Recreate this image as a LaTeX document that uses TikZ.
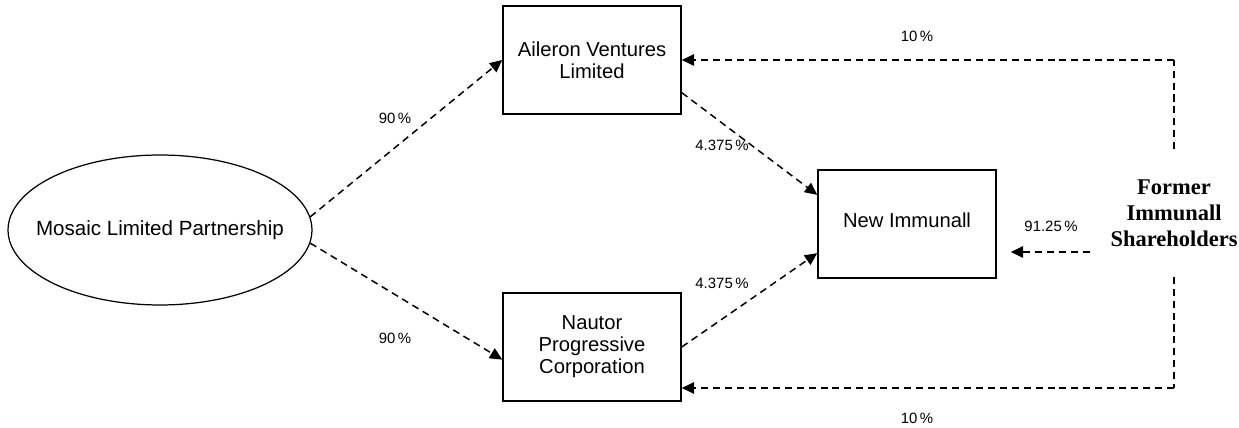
\documentclass[tikz,border=0pt]{standalone}
\usepackage{fontspec}
\setmainfont{Liberation Sans}
\newfontfamily\formerfont{Liberation Serif}
\usepackage{tikz}
\usetikzlibrary{calc, positioning, arrows.meta, shapes.geometric}
\tikzstyle{entity}=[draw, shape=rectangle, line width=0.9pt, minimum width=3.56cm, minimum height=2.16cm, align=center, inner sep=2pt, font=\fontsize{11.5}{12.6}\selectfont]
\tikzstyle{holder}=[draw, shape=ellipse, line width=0.7pt, minimum width=6.08cm, minimum height=3cm, inner sep=0pt, font=\fontsize{11.7}{12.6}\selectfont]
\tikzstyle{link}=[line width=0.85pt, dash pattern=on 4pt off 2.8pt, -{Triangle[length=7pt, width=6.5pt]}]
\tikzstyle{plain link}=[line width=0.85pt, dash pattern=on 4pt off 2.8pt]
\tikzstyle{pct}=[inner sep=0pt, font=\fontsize{8.5}{10}\selectfont]

\begin{document}
\begin{tikzpicture}[x=0.02cm, y=-0.02cm]
\useasboundingbox (0,0) rectangle (1239,428);
% the owners and the companies
\node[holder] (mosaic) at (160,230) {\makebox[0pt]{Mosaic Limited Partnership}};
\node[entity] (aileron) at (592,60) {Aileron Ventures\\Limited};
\node[entity] (nautor) at (592,347) {Nautor\\Progressive\\Corporation};
\node[entity] (newimm) at (907,224) {\raisebox{4pt}{New Immunall}};
\node[align=center, inner xsep=0pt, inner ysep=17pt, font=\formerfont\bfseries\fontsize{12.8}{14.8}\selectfont] (former) at (1174,213) {Former\\Immunall\\Shareholders};
% the corners and the free end
\coordinate (topturn) at (former.north |- aileron.east);
\coordinate (botturn) at (1174,388);
\coordinate (fmid) at (1090,252);
%
% the holdings of Mosaic
\draw[link] (mosaic.5) -- (aileron.west);
\draw[link] (mosaic.-5) -- (nautor.188);
% the holdings in New Immunall
\draw[link] (aileron.-20) -- (newimm.162);
\draw[link] (nautor.east) -- (newimm.198);
\draw[link, shorten >= 0.28cm] (fmid) -- (fmid -| newimm.east);
% the holdings of the former shareholders
\draw[plain link] (former.north) -- (topturn);
\draw[link] (topturn) -- (aileron.east);
\draw[plain link] (former.south) -- (botturn);
\draw[link] (botturn) -- (botturn -| nautor.east);
% the percentages
\node[pct] (p1) at (395,118) {90\,\%};
\node[pct] (p2) at (395,338) {90\,\%};
\node[pct] (p3) at (722,145) {4.375\,\%};
\node[pct] (p4) at (722,283) {4.375\,\%};
\node[pct] (p5) at (1051,226) {91.25\,\%};
\node[pct] (p6) at (917,36) {10\,\%};
\node[pct] (p7) at (917,418) {10\,\%};
\end{tikzpicture}
\end{document}
